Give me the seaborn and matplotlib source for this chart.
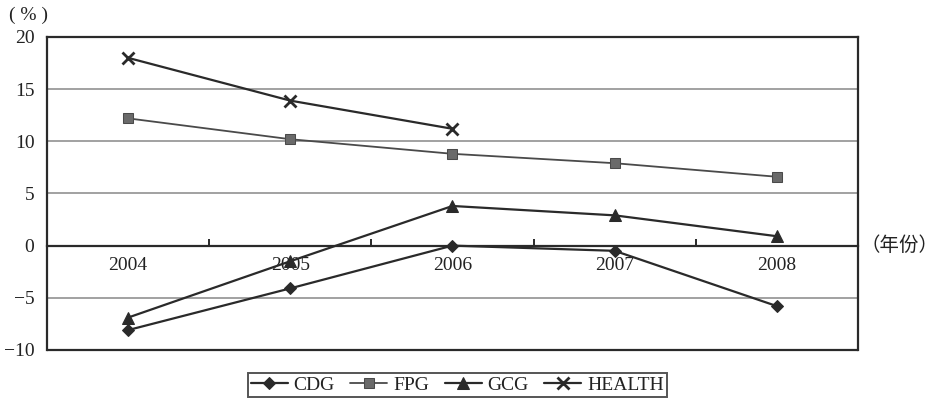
import numpy as np
import pandas as pd
import matplotlib
matplotlib.use("Agg")
import matplotlib.pyplot as plt
import seaborn as sns

years = [2004, 2005, 2006, 2007, 2008]
cdg = [-8.1, -4.1, 0.0, -0.5, -5.8]
fpg = [12.2, 10.2, 8.8, 7.9, 6.6]
gcg = [-6.9, -1.5, 3.8, 2.9, 0.9]
health = [18.0, 13.9, 11.2]          # 2004-2006 only
series_names = ["CDG", "FPG", "GCG", "HEALTH"]
y_ticks = [-10, -5, 0, 5, 10, 15, 20]

sns.set_theme(style="white")
plt.rcParams["font.family"] = ["Liberation Serif", "Noto Sans CJK SC"]

fig = plt.figure(figsize=(9.39, 3.99), dpi=100)
ax = fig.add_axes([0.050, 0.123, 0.8637, 0.7843])

styles = {
    "CDG": dict(color="#2a2a2a", marker="D", markersize=6.5, linewidth=1.6,
                markerfacecolor="#2a2a2a", markeredgecolor="#2a2a2a"),
    "FPG": dict(color="#4a4a4a", marker="s", markersize=6.5, linewidth=1.3,
                markerfacecolor="#6a6a6a", markeredgecolor="#4a4a4a"),
    "GCG": dict(color="#2a2a2a", marker="^", markersize=8, linewidth=1.6,
                markerfacecolor="#2a2a2a", markeredgecolor="#2a2a2a"),
    "HEALTH": dict(color="#2a2a2a", marker="x", markersize=9, linewidth=1.6,
                   markeredgewidth=2.0, markeredgecolor="#2a2a2a",
                   markerfacecolor="#2a2a2a"),
}

for name, vals in zip(series_names, [cdg, fpg, gcg, health]):
    d = pd.DataFrame({"year": years[:len(vals)], "value": vals})
    sns.lineplot(data=d, x="year", y="value", ax=ax, label=name, zorder=3,
                 **styles[name])

ax.set_xlim(2003.5, 2008.5)
ax.set_ylim(-10, 20)
ax.set_xlabel("")
ax.set_ylabel("")

# frame
for s in ["top", "left", "right"]:
    ax.spines[s].set_color("#2a2a2a")
    ax.spines[s].set_linewidth(1.6)
ax.spines["bottom"].set_position(("data", 0))
ax.spines["bottom"].set_color("#2a2a2a")
ax.spines["bottom"].set_linewidth(1.6)
ax.axhline(-10, color="#2a2a2a", lw=1.6, clip_on=False, zorder=4)

# horizontal gridlines
for yv in [15, 10, 5, -5]:
    ax.axhline(yv, color="#9a9a9a", lw=1.3, zorder=1)

ax.set_yticks(y_ticks)
ax.set_yticklabels([str(v) if v >= 0 else "\u2212" + str(-v) for v in y_ticks])
ax.tick_params(axis="y", length=0, pad=9, labelsize=14, colors="#222222")

ax.set_xticks(years)
ax.set_xticklabels([str(y) for y in years])
ax.set_xticks([2004.5, 2005.5, 2006.5, 2007.5], minor=True)
ax.tick_params(axis="x", which="major", length=0, pad=8, labelsize=14, colors="#222222")
ax.tick_params(axis="x", which="minor", direction="in", length=5, width=1.4,
               color="#2a2a2a", bottom=True)

fig.text(0.010, 0.962, "( % )", fontsize=14, color="#222222",
         va="center", ha="left")
fig.text(0.916, 0.385, "（年份）", fontsize=14, color="#222222",
         family=["Noto Sans CJK SC"], va="center", ha="left")

handles, labels = ax.get_legend_handles_labels()
if ax.legend_ is not None:
    ax.legend_.remove()
leg = fig.legend(handles, labels, loc="center", bbox_to_anchor=(0.487, 0.035),
                 ncol=4, frameon=True, fancybox=False, fontsize=14,
                 handlelength=1.9, handletextpad=0.3, columnspacing=0.8,
                 borderpad=0.15)
leg.get_frame().set_edgecolor("#2a2a2a")
leg.get_frame().set_linewidth(1.4)
for t in leg.get_texts():
    t.set_color("#222222")

fig.savefig("out.png", dpi=100, facecolor="white")
